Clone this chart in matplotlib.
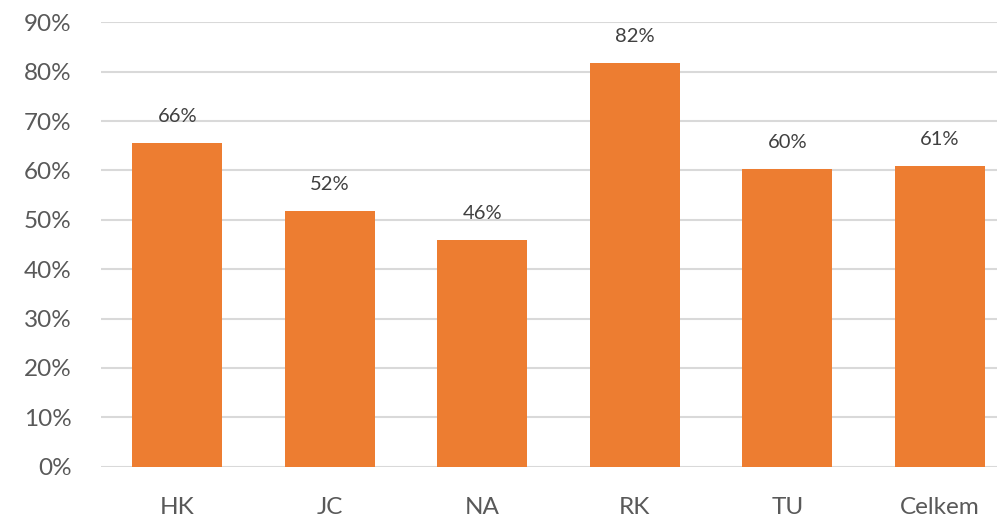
import matplotlib
matplotlib.use("Agg")
import matplotlib.pyplot as plt
from matplotlib.ticker import PercentFormatter

categories = ["HK", "JC", "NA", "RK", "TU", "Celkem"]
values = [65.5, 51.7, 45.9, 81.7, 60.2, 60.8]
labels = ["66%", "52%", "46%", "82%", "60%", "61%"]

plt.rcParams['font.family'] = ['Lato', 'DejaVu Sans']

W, H = 997, 517
fig = plt.figure(figsize=(W / 100, H / 100), dpi=100)
left, right = 101, 1016
top, bottom = 22.3, 466.7
ax = fig.add_axes([left / W, (H - bottom) / H, (right - left) / W, (bottom - top) / H])

x = list(range(len(categories)))
ax.bar(x, values, width=0.59, color="#ED7D31", zorder=3)
for xi, v, lab in zip(x, values, labels):
    ax.annotate(lab, (xi, v), xytext=(0, 13), textcoords="offset points",
                ha="center", va="bottom", fontsize=14.5, color="#404040")

ax.set_xlim(-0.5, len(categories) - 0.5)
ax.set_ylim(0, 90)
ax.set_yticks(range(0, 91, 10))
ax.yaxis.set_major_formatter(PercentFormatter(decimals=0))
ax.set_xticks(x)
ax.set_xticklabels(categories)
ax.grid(axis="y", color="#D9D9D9", linewidth=1.5, zorder=0)
for s in ax.spines.values():
    s.set_visible(False)
ax.tick_params(axis="both", length=0, labelsize=17.5, colors="#595959")
ax.tick_params(axis="y", pad=21)
ax.tick_params(axis="x", pad=22)

fig.savefig("out.png", dpi=100)
